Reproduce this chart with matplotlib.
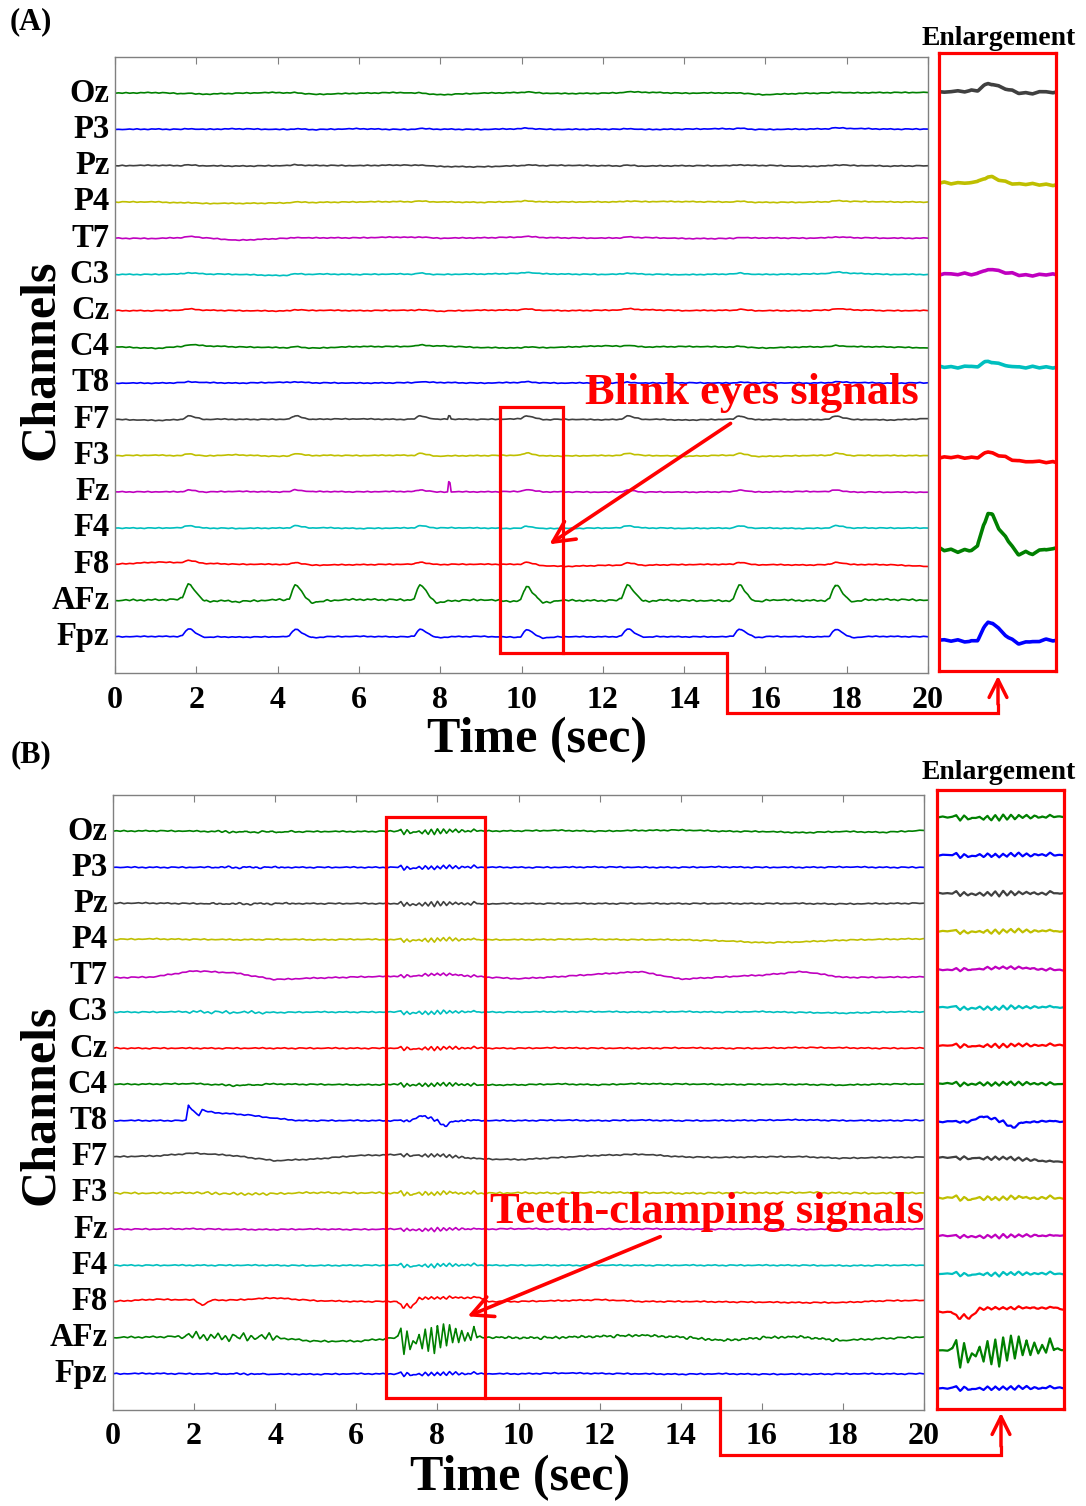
"""Two-panel EEG figure: blink-eye and teeth-clamping artefacts with enlargements."""
import numpy as np
import matplotlib
matplotlib.use("Agg")
import matplotlib.pyplot as plt
from matplotlib.patches import Rectangle

plt.rcParams["font.family"] = ["Liberation Serif", "DejaVu Serif"]
plt.rcParams["font.weight"] = "bold"

W, H = 1086, 1506

# ---------------------------------------------------------------- data
CHANNELS = ["Oz", "P3", "Pz", "P4", "T7", "C3", "Cz", "C4",
            "T8", "F7", "F3", "Fz", "F4", "F8", "AFz", "Fpz"]
COLORS = ["#008000", "#0000ff", "#404040", "#bfbf00", "#bf00bf", "#00bfbf", "#ff0000",
          "#008000", "#0000ff", "#404040", "#bfbf00", "#bf00bf", "#00bfbf", "#ff0000",
          "#008000", "#0000ff"]
GRID_T = list(range(21))  # seconds; baselines below are read at these times (0.01 channel spacings)

# panel A: slow baseline drift per channel
A_BASE = {
    "Oz":  [0, 2, -3, 0, 2, -3, 0, 2, -4, 0, 2, -1, 0, 3, 0, 1, -4, 0, 1, 2, 2],
    "P3":  [0, 1, 0, 2, 0, 0, 2, 0, 1, 0, 2, 0, 1, 0, 1, 2, 0, 1, 3, 1, 1],
    "Pz":  [0, 1, 0, -1, 0, 1, 0, 2, -2, -3, 0, 1, 0, -1, 0, 0, 1, -2, 1, -1, 0],
    "P4":  [0, 0, -4, -4, -3, -1, 0, 1, 0, -1, 1, 0, 0, 1, 1, 0, -1, -1, 2, 0, 0],
    "T7":  [0, -1, 3, -6, -1, 1, 1, 3, 0, 1, 3, 1, 0, 2, -1, -1, 1, 0, 2, 0, 0],
    "C3":  [0, 0, 2, 0, -3, 1, 0, 1, 0, 1, 3, 1, 0, 1, -1, 1, 0, 1, 4, 0, 0],
    "Cz":  [0, 0, 2, 0, -1, 1, 0, 1, -1, 1, 2, 0, 1, 3, 0, 1, 0, 0, 3, 0, 0],
    "C4":  [0, -4, 4, 0, -2, -3, 1, 1, 3, -2, -3, -1, 3, 0, 1, 0, -3, 0, 1, 0, -3],
    "T8":  [0, 0, 2, 0, 2, 1, 0, 1, 2, 0, 2, 0, 1, 0, 1, 0, 1, 0, 2, 0, 1],
    "F7":  [0, -3, 1, 0, 0, 1, 1, 0, 1, 0, 1, 0, -1, 1, -2, 0, 0, -1, 1, -2, 2],
    "F3":  [0, 1, -1, 2, -2, 1, 0, 1, -1, 0, 1, -1, 0, 1, -2, 1, -2, 0, 1, 0, 0],
    "Fz":  [0, 0, 0, 1, 0, 1, 0, 1, 0, 0, 1, 0, -1, 0, -1, 0, 0, 1, 0, -1, -1],
    "F4":  [0, 0, 1, -1, 0, 1, -1, 0, 1, 0, -1, -1, 0, 1, -1, 0, 0, -1, 1, 0, 0],
    "F8":  [0, 6, 4, 0, 0, -2, -1, 0, 0, 0, 0, -6, -3, -2, -1, 0, -1, -2, 0, -1, -6],
    "AFz": [0, 2, 4, -3, 2, -1, 3, 2, -1, 2, -3, 0, 0, 2, 0, -1, 2, 0, 1, 3, 1],
    "Fpz": [0, 1, 1, -1, 0, 0, 1, 0, 0, 1, -2, 0, 0, 1, 0, 0, 1, 0, 0, 1, 0],
}
A_BLINK_TIMES = [1.80, 4.43, 7.50, 10.12, 12.60, 15.35, 17.72]
A_BLINK_AMP = {"Oz": 2, "P3": 2, "Pz": 2, "P4": 2, "T7": 2, "C3": 3, "Cz": 3, "C4": 3,
               "T8": 2, "F7": 9, "F3": 6, "Fz": 5, "F4": 6, "F8": 6, "AFz": 42, "Fpz": 21}
BLINK_DT = [-0.25, -0.14, -0.06, 0.0, 0.06, 0.15, 0.27, 0.40, 0.55, 0.75]
BLINK_V = [0.0, 0.1, 0.7, 1.0, 0.95, 0.6, 0.2, -0.1, -0.1, 0.0]
A_SPIKES = {"Fz": (8.22, 28), "F7": (8.22, 10)}
SPIKE_DT = [-0.04, -0.01, 0.02, 0.05]
SPIKE_V = [0.0, 1.0, 0.9, 0.0]
A_RIPPLE_AMP = {ch: 1.5 for ch in CHANNELS}
A_RIPPLE_AMP["AFz"] = 3
A_ZOOM_T = (9.47, 11.02)
A_ZOOM_CH = ["F7", "F3", "Fz", "F4", "F8", "AFz", "Fpz"]

# panel B
B_BASE = {
    "Oz":  [0, 1, 0, -2, -2, -1, -1, 0, -1, 0, 1, 2, 0, 2, 3, 0, -1, -4, -1, -3, 2],
    "P3":  [0, 0, 0, 0, 0, 0, 0, 0, 0, 0, 0, 0, 1, 0, 0, 1, 0, 0, 1, 0, 0],
    "Pz":  [1, 1, 0, -1, 0, 0, 0, 0, -1, -1, 0, 0, 0, 0, 0, 0, 0, 0, -1, 0, 1],
    "P4":  [1, 2, 1, 0, 1, 0, 1, 0, 0, 0, 0, 1, 1, 0, 0, -3, -8, -6, -1, 1, 3],
    "T7":  [-5, -3, 14, 8, -10, -6, -3, -1, 5, -2, -8, -2, 5, 12, -9, -3, 2, 12, -4, -4, -3],
    "C3":  [0, 0, 1, -1, -1, 0, 0, 0, -1, 0, 0, 1, 1, 0, 1, 0, 1, -1, -3, 0, 1],
    "Cz":  [0, 0, 0, 0, 0, 0, 0, 0, 0, 0, 0, 1, 0, 0, 1, 0, 0, 2, 1, 0, 0],
    "C4":  [0, 1, 2, -3, 1, 0, -1, 0, 0, -2, -1, 1, -1, 2, 1, 0, 0, 0, -2, 1, 1],
    "T8":  [0, 0, 0, 0, 0, 0, 0, 0, 0, 0, 0, 1, 0, 1, 0, 0, 1, 2, 0, 0, 1],
    "F7":  [0, 2, 10, 3, -11, -6, 3, 6, 4, -6, -8, -2, 4, 7, 0, -2, 0, 0, -4, -2, -1],
    "F3":  [0, -1, 1, -3, -2, 1, 0, 0, -1, -1, 0, 0, 1, 1, -1, 0, 0, 1, 0, -1, 0],
    "Fz":  [0, 0, 1, -1, -1, 0, -1, 0, -1, 0, 1, 0, 0, 1, 0, 0, 0, -1, 0, -1, 1],
    "F4":  [0, 0, 0, 0, 0, -1, 0, 0, 0, 0, 0, 0, 0, 0, 0, 0, 0, 0, -1, 0, 0],
    "F8":  [0, 6, 4, 4, 10, 2, 0, 0, 0, 0, 0, 2, 5, 0, 0, -1, -2, -3, -3, 2, 3],
    "AFz": [0, 2, 4, 2, 0, -10, -10, 0, 0, 0, 0, 0, 4, 6, 2, -8, 0, 2, -8, -2, 2],
    "Fpz": [0, 1, 0, 0, -1, -1, 0, 0, 0, 0, 0, 2, 1, 0, -1, 0, -1, -1, 0, 0, 0],
}
# isolated deflections: (times, values)
B_EVENTS = {
    "T8": [([1.80, 1.86, 1.95, 2.12, 2.20, 2.28, 2.5, 3.3, 4.0, 4.6],
            [0, 43, 30, 14, 30, 26, 22, 16, 6, 0]),
           ([7.3, 7.6, 7.8, 8.0, 8.19, 8.35, 8.6], [0, 14, 8, 0, -17, -4, 0])],
    "F8": [([2.0, 2.2, 2.45], [0, -14, 0]),
           ([7.0, 7.15, 7.25, 7.35, 7.55, 9.05, 9.25], [0, -16, -8, -16, 10, 10, 0])],
}
BURST_T0, BURST_STEP = 6.95, 0.075
BURST = [0.0, 0.05, 0.6, -1.0, 0.4, -0.7, -0.2, -0.4, 0.2, -0.7,
         0.5, -0.8, 0.6, -0.9, 0.7, -0.6, 0.8, -0.5, 0.8, -0.3,
         0.6, -0.3, 0.4, -0.2, 0.3, -0.2, 0.7, 0.0, 0.1, 0.0]
B_BURST_AMP = {"Oz": 9, "P3": 7, "Pz": 8, "P4": 7, "T7": 5, "C3": 7, "Cz": 6, "C4": 7,
               "T8": 4, "F7": 6, "F3": 7, "Fz": 6, "F4": 6, "F8": 5, "AFz": 46, "Fpz": 7}
# background muscle ripple, one value per 0.09 s
RIPPLE_STEP = 0.09
RIPPLE = [0.0, 0.6, -0.3, 0.9, -0.5, 0.2, -0.8, 0.4, -0.2, 0.7,
          -0.6, 0.1, -0.9, 0.5, 0.3, -0.4, 0.8, -0.7, 0.2, -0.3]
B_RIPPLE = {
    "Oz": [(0, 20, 2), (2.5, 4.5, 3)], "P3": [(0, 20, 2), (2.3, 4.2, 3)],
    "Pz": [(0, 20, 2), (2.3, 4.5, 3)], "P4": [(0, 20, 2)], "T7": [(0, 20, 2)],
    "C3": [(0, 20, 2), (1.8, 3.8, 3)], "Cz": [(0, 20, 2)], "C4": [(0, 20, 2), (2.5, 4, 2)],
    "T8": [(0, 20, 2)], "F7": [(0, 20, 2)], "F3": [(0, 20, 3), (2, 4, 3)],
    "Fz": [(0, 20, 2)], "F4": [(0, 20, 2)], "F8": [(0, 20, 2)],
    "AFz": [(0, 20, 3), (1.6, 4.2, 13), (9.3, 18, 5)], "Fpz": [(0, 20, 2), (2.5, 4, 2)],
}
B_ZOOM_T = (6.73, 9.17)


# ---------------------------------------------------------------- helpers
def ripple_layers(segs, shift):
    out = []
    pat = np.roll(np.array(RIPPLE), shift)
    for t0, t1, amp in segs:
        tt = np.arange(t0, t1 + 1e-9, RIPPLE_STEP)
        vv = amp * np.resize(pat, len(tt))
        vv[0] = vv[-1] = 0.0
        out.append((tt, vv))
    return out


def build(base, layers):
    tt = np.unique(np.concatenate([np.array(GRID_T, float)] +
                                  [np.asarray(lt, float) for lt, _ in layers]))
    tt = tt[(tt >= 0) & (tt <= 20)]
    y = np.interp(tt, GRID_T, base).astype(float)
    for lt, lv in layers:
        y += np.interp(tt, lt, lv, left=0.0, right=0.0)
    return tt, y / 100.0


def traces_a():
    out = {}
    for i, ch in enumerate(CHANNELS):
        layers = [(np.array(BLINK_DT) + tb, A_BLINK_AMP[ch] * np.array(BLINK_V))
                  for tb in A_BLINK_TIMES]
        if ch in A_SPIKES:
            ts, amp = A_SPIKES[ch]
            layers.append((np.array(SPIKE_DT) + ts, amp * np.array(SPIKE_V)))
        layers += ripple_layers([(0, 20, A_RIPPLE_AMP[ch])], 3 * i)
        out[ch] = build(A_BASE[ch], layers)
    return out


def traces_b():
    out = {}
    bt = BURST_T0 + BURST_STEP * np.arange(len(BURST))
    for i, ch in enumerate(CHANNELS):
        layers = [(bt, B_BURST_AMP[ch] * np.array(BURST))]
        layers += B_EVENTS.get(ch, [])
        layers += ripple_layers(B_RIPPLE[ch], 3 * i)
        out[ch] = build(B_BASE[ch], layers)
    return out


def px_axes(fig, x0, y0, x1, y1):
    return fig.add_axes([x0 / W, 1 - y1 / H, (x1 - x0) / W, (y1 - y0) / H])


def style_main(ax):
    ax.set_xlim(0, 20)
    ax.set_ylim(0, 17)
    ax.set_xticks(range(0, 21, 2))
    ax.tick_params(axis="x", direction="in", top=True, length=5, width=0.8,
                   color="#808080", labelsize=23, pad=9)
    ax.set_yticks([16 - k + 0.1 for k in range(16)])
    ax.set_yticklabels(CHANNELS, fontsize=23.5)
    ax.tick_params(axis="y", length=0, pad=4)
    for s in ax.spines.values():
        s.set_color("#808080")
        s.set_linewidth(1.0)


def style_zoom(ax, xlim, ylim):
    ax.set_xlim(*xlim)
    ax.set_ylim(*ylim)
    ax.set_xticks([])
    ax.set_yticks([])
    for s in ax.spines.values():
        s.set_color("red")
        s.set_linewidth(2.3)


def main():
    fig = plt.figure(figsize=(W / 100, H / 100), dpi=100)
    ta, tb = traces_a(), traces_b()

    # ---- panel A
    ax = px_axes(fig, 115, 57, 928, 673)
    for k, ch in enumerate(CHANNELS):
        t, y = ta[ch]
        ax.plot(t, 16 - k + y, color=COLORS[k], lw=1.2)
    style_main(ax)
    ax.add_patch(Rectangle((A_ZOOM_T[0], 0.55), A_ZOOM_T[1] - A_ZOOM_T[0], 6.8,
                           fill=False, ec="red", lw=2.3, zorder=5, clip_on=False))
    ax.text(15.67, 7.73, "Blink eyes signals", color="red", fontsize=32,
            ha="center", va="center", zorder=6)
    ax.annotate("", xy=(10.63, 3.51), xytext=(15.2, 6.93),
                arrowprops=dict(arrowstyle="->", color="red", lw=2.6, mutation_scale=38))
    ax.text(0.519, -0.109, "Time (sec)", transform=ax.transAxes, fontsize=36,
            ha="center", va="center")
    ax.text(-0.091, 0.508, "Channels", transform=ax.transAxes, fontsize=36,
            rotation=90, ha="center", va="center")
    axa = ax

    az = px_axes(fig, 939, 53, 1056, 671)
    for j, ch in enumerate(A_ZOOM_CH):
        k = CHANNELS.index(ch)
        t, y = ta[ch]
        az.plot(t, 7 - j + y, color=COLORS[k], lw=2.6)
    style_zoom(az, A_ZOOM_T, (0.66, 7.43))

    # ---- panel B
    bx = px_axes(fig, 113, 795, 924, 1410)
    for k, ch in enumerate(CHANNELS):
        t, y = tb[ch]
        bx.plot(t, 16 - k + y, color=COLORS[k], lw=1.2)
    style_main(bx)
    bx.add_patch(Rectangle((B_ZOOM_T[0], 0.33), B_ZOOM_T[1] - B_ZOOM_T[0], 16.07,
                           fill=False, ec="red", lw=2.3, zorder=5, clip_on=False))
    bx.text(14.65, 5.46, "Teeth-clamping signals", color="red", fontsize=32,
            ha="center", va="center", zorder=6, clip_on=False)
    bx.annotate("", xy=(8.68, 2.56), xytext=(13.56, 4.82),
                arrowprops=dict(arrowstyle="->", color="red", lw=2.6, mutation_scale=38))
    bx.text(0.502, -0.111, "Time (sec)", transform=bx.transAxes, fontsize=36,
            ha="center", va="center")
    bx.text(-0.089, 0.496, "Channels", transform=bx.transAxes, fontsize=36,
            rotation=90, ha="center", va="center")

    bz = px_axes(fig, 937, 790, 1064, 1409)
    for k, ch in enumerate(CHANNELS):
        t, y = tb[ch]
        bz.plot(t, 16 - k + y, color=COLORS[k], lw=1.6)
    style_zoom(bz, B_ZOOM_T, (0.45, 16.71))

    # ---- overlay: panel letters, titles, connectors
    ov = fig.add_axes([0, 0, 1, 1])
    ov.set_xlim(0, W)
    ov.set_ylim(H, 0)
    ov.axis("off")
    ov.text(31, 22, "(A)", fontsize=22, ha="center", va="center")
    ov.text(31, 755, "(B)", fontsize=22, ha="center", va="center")
    ov.text(999, 38, "Enlargement", fontsize=20, ha="center", va="center")
    ov.text(999, 772, "Enlargement", fontsize=20, ha="center", va="center")

    def corner(a, x, y):
        dx, dy = a.transData.transform((x, y))
        return dx, H - dy

    for a, xt, y0, xm, ym, xa, ya in [(axa, A_ZOOM_T[1], 0.55, 727, 713, 998, 673),
                                      (bx, B_ZOOM_T[1], 0.33, 720, 1455, 1001, 1410)]:
        cx, cy = corner(a, xt, y0)
        ov.plot([cx, xm, xm, xa, xa], [cy, cy, ym, ym, ym - 8], color="red", lw=2.3,
                solid_joinstyle="miter")
        ov.annotate("", xy=(xa, ya), xytext=(xa, ym - 6),
                    arrowprops=dict(arrowstyle="->", color="red", lw=2.5, mutation_scale=32))

    fig.savefig("out.png", dpi=100)


if __name__ == "__main__":
    main()
